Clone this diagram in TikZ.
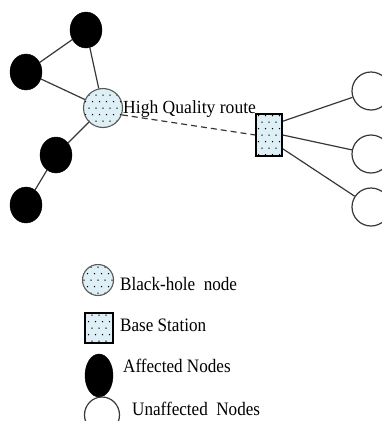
\documentclass[tikz,border=0pt]{standalone}
\usepackage{fontspec}
\setmainfont{Liberation Serif}
\newfontfamily\legfont{Liberation Serif}[FakeStretch=0.9]
\newfontfamily\lblfont{Liberation Serif}[FakeStretch=0.95]
\usetikzlibrary{shapes.geometric,calc}
\definecolor{bhfill}{RGB}{222,239,246}
\definecolor{edgecol}{RGB}{55,55,55}
\tikzset{
  dotfill/.style={path picture={
    \foreach \j in {-4,...,4} {
      \foreach \i in {-4,...,4} {
        \pgfmathsetmacro{\off}{isodd(\j)*3.5}
        \fill[black] ($(path picture bounding box.center)+(\i*7+\off,\j*6.5)$) circle (0.75);
      }
    }}},
  affected/.style={ellipse,fill=black,draw=black,inner sep=0pt,minimum width=32,minimum height=36},
  unaffected/.style={ellipse,fill=white,draw=edgecol,line width=1.2,inner sep=0pt,minimum width=38,minimum height=38},
  blackhole/.style={circle,fill=bhfill,draw=black!65,line width=1.1,inner sep=0pt,minimum size=39,dotfill},
  basest/.style={rectangle,fill=bhfill,draw=black,line width=1.5,inner sep=0pt,minimum width=26,minimum height=42,dotfill},
  link/.style={draw=edgecol,line width=1.2},
  lbl/.style={inner sep=0pt,anchor=base west,font=\lblfont\fontsize{18.5}{20}\selectfont},
  legtext/.style={inner sep=0pt,anchor=base west,font=\legfont\fontsize{19}{20}\selectfont},
}
\begin{document}
\begin{tikzpicture}[x=1pt,y=-1pt]
\useasboundingbox (0,0) rectangle (382,421);
\clip (0,0) rectangle (382,421);
% network
\node[affected] (top) at (86,30) {};
\node[affected] (left) at (26,72) {};
\node[blackhole] (bh) at (103,108) {};
\node[affected] (mid) at (56,155) {};
\node[affected] (bot) at (26,205) {};
\node[basest] (bs) at (269,135) {};
\node[unaffected] (w1) at (371,91) {};
\node[unaffected] (w2) at (371,154) {};
\node[unaffected] (w3) at (371,207) {};
\draw[link] (left) -- (top);
\draw[link] (top) -- (bh);
\draw[link] (left) -- (bh);
\draw[link] (bh) -- (mid);
\draw[link] (mid) -- (bot);
\draw[link,dash pattern=on 6pt off 4pt] (bh.-20) -- (bs.west);
\draw[link] (bs.45) -- (w1);
\draw[link] (bs.east) -- (w2);
\draw[link] (bs.-45) -- (w3);
\node[lbl] (route) at (123,113.5) {High Quality route};
% legend
\node[blackhole,minimum size=31] (lbh) at (98,280) {};
\node[legtext] (tbh) at (120,290) {Black-hole\ \ node};
\node[basest,minimum width=28,minimum height=30] (lbs) at (99,328) {};
\node[legtext] (tbs) at (120,331) {Base Station};
\node[affected,minimum width=28,minimum height=43] (laf) at (99,375.5) {};
\node[legtext] (taf) at (123,372) {Affected Nodes};
\node[unaffected,minimum width=35,minimum height=36] (lun) at (102,415) {};
\node[legtext] (tun) at (132,415) {Unaffected\ \ Nodes};
\end{tikzpicture}
\end{document}
